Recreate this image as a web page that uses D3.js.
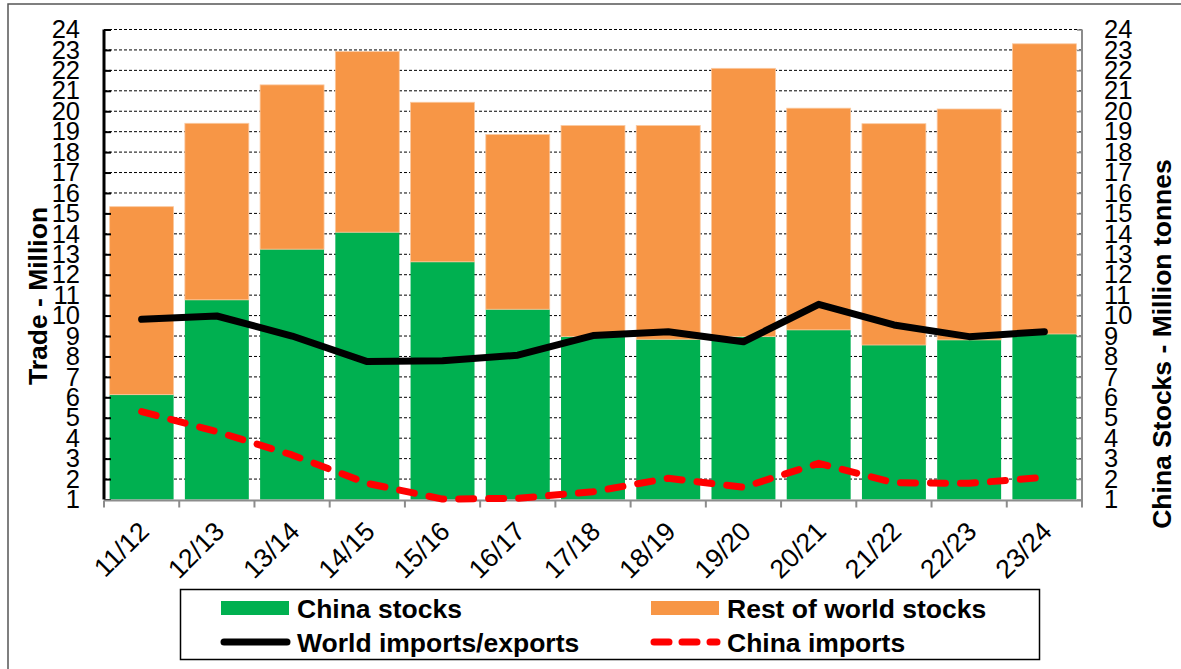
<!DOCTYPE html>
<html>
<head>
<meta charset="utf-8">
<script src="https://cdn.jsdelivr.net/npm/d3@7"></script>
<style>
  html, body { margin: 0; padding: 0; background: #fff; }
  svg { display: block; font-family: "Liberation Sans", Arial, sans-serif; }
</style>
</head>
<body>
<svg id="chart" width="1181" height="669"></svg>
<script>
// ---- data ----
const categories = ["11/12","12/13","13/14","14/15","15/16","16/17","17/18","18/19","19/20","20/21","21/22","22/23","23/24"];
const chinaStocks = [6.13, 10.77, 13.25, 14.08, 12.63, 10.31, 8.97, 8.84, 8.97, 9.30, 8.56, 8.81, 9.10];
const restOfWorldStocks = [9.20, 8.64, 8.04, 8.84, 7.81, 8.55, 10.33, 10.46, 13.13, 10.85, 10.83, 11.30, 14.20];
const worldTrade = [9.82, 9.98, 9.00, 7.75, 7.79, 8.06, 9.02, 9.21, 8.72, 10.55, 9.54, 8.97, 9.21];
const chinaImports = [5.30, 4.32, 3.18, 1.79, 1.02, 1.06, 1.38, 2.04, 1.60, 2.77, 1.82, 1.79, 2.09];
const yTicks = d3.range(1, 25);
const legendItems = ["China stocks", "Rest of world stocks", "World imports/exports", "China imports"];

// ---- layout ----
const svg = d3.select("#chart");
const L = 104, R = 1082, T = 29.5, B = 499.5;
const GREEN = "#00B050", ORANGE = "#F79646", RED = "#FF0000";

const x = d3.scaleBand().domain(categories).range([L, R]).paddingInner(0.15).paddingOuter(0.075);
const y = d3.scaleLinear().domain([1, 24]).range([B, T]);

// outer frame
svg.append("rect").attr("x", 8).attr("y", 4).attr("width", 1300).attr("height", 800)
  .attr("fill", "none").attr("stroke", "#555").attr("stroke-width", 1.5);

// gridlines
svg.append("g").selectAll("line").data(yTicks.filter(d => d > 1)).join("line")
  .attr("x1", L).attr("x2", R)
  .attr("y1", d => y(d)).attr("y2", d => y(d))
  .attr("stroke", "#000").attr("stroke-width", 1).attr("stroke-dasharray", "3,2");

// bars
const rows = categories.map((c, i) => ({ c, china: chinaStocks[i], rest: restOfWorldStocks[i] }));
const barG = svg.append("g");
barG.selectAll("rect.china").data(rows).join("rect").attr("class", "china")
  .attr("x", d => x(d.c)).attr("width", x.bandwidth())
  .attr("y", d => y(d.china)).attr("height", d => y(1) - y(d.china))
  .attr("fill", GREEN);
barG.selectAll("rect.rest").data(rows).join("rect").attr("class", "rest")
  .attr("x", d => x(d.c)).attr("width", x.bandwidth())
  .attr("y", d => y(d.china + d.rest)).attr("height", d => y(d.china) - y(d.china + d.rest))
  .attr("fill", ORANGE).attr("stroke", "#fbc9a0").attr("stroke-width", 0.8);

// left axis
const leftAxis = d3.axisLeft(y).tickValues(yTicks).tickSize(-7).tickPadding(-4).tickFormat(d3.format("d"));
const gl = svg.append("g").attr("transform", `translate(${L},0)`).call(leftAxis);
gl.select(".domain").attr("stroke", "#000").attr("stroke-width", 3).attr("d", `M0,${T}V${B}`);
gl.selectAll(".tick line").attr("stroke", "#000").attr("stroke-width", 2);
gl.selectAll(".tick text").attr("x", -24).attr("font-size", 25.5).attr("fill", "#000")
  .attr("font-family", "Liberation Sans, Arial, sans-serif");

// right axis
const rightAxis = d3.axisRight(y).tickValues(yTicks).tickSize(-5).tickFormat(d3.format("d"));
const gr = svg.append("g").attr("transform", `translate(${R},0)`).call(rightAxis);
gr.select(".domain").attr("stroke", "#8c8c8c").attr("stroke-width", 2).attr("d", `M0,${T}V${B + 1}`);
gr.selectAll(".tick line").attr("stroke", "#8c8c8c").attr("stroke-width", 1.5);
gr.selectAll(".tick text").attr("x", 22).attr("font-size", 25.5).attr("fill", "#000")
  .attr("font-family", "Liberation Sans, Arial, sans-serif");

// bottom axis
const step = x.step();
const bounds = d3.range(categories.length + 1).map(i => L + i * step);
const gb = svg.append("g");
gb.append("line").attr("x1", L).attr("x2", R + 1).attr("y1", B + 1).attr("y2", B + 1)
  .attr("stroke", "#8c8c8c").attr("stroke-width", 2);
gb.selectAll("line.tk").data(bounds).join("line").attr("class", "tk")
  .attr("x1", d => d).attr("x2", d => d).attr("y1", B + 1).attr("y2", B + 8)
  .attr("stroke", "#8c8c8c").attr("stroke-width", 2);
gb.selectAll("text").data(categories).join("text")
  .attr("transform", d => `translate(${x(d) + x.bandwidth() / 2 + 9},${533}) rotate(-45)`)
  .attr("text-anchor", "end").attr("font-size", 26.5).attr("fill", "#000")
  .text(d => d);

// lines
const lineGen = d3.line().x((d, i) => x(categories[i]) + x.bandwidth() / 2).y(d => y(d));
svg.append("path").datum(worldTrade).attr("d", lineGen)
  .attr("fill", "none").attr("stroke", "#000").attr("stroke-width", 7)
  .attr("stroke-linecap", "round").attr("stroke-linejoin", "round");
svg.append("path").datum(chinaImports).attr("d", lineGen)
  .attr("fill", "none").attr("stroke", RED).attr("stroke-width", 7)
  .attr("stroke-dasharray", "15,15")
  .attr("stroke-linecap", "round").attr("stroke-linejoin", "round");

// axis titles
svg.append("text").attr("transform", "translate(47,296) rotate(-90)")
  .attr("text-anchor", "middle").attr("font-size", 26.5).attr("font-weight", "bold")
  .text("Trade - Million");
svg.append("text").attr("transform", "translate(1171,344) rotate(-90)")
  .attr("text-anchor", "middle").attr("font-size", 26.5).attr("font-weight", "bold")
  .text("China Stocks - Million tonnes");

// legend
const lg = svg.append("g");
lg.append("rect").attr("x", 180.5).attr("y", 589.5).attr("width", 859).attr("height", 70)
  .attr("fill", "#fff").attr("stroke", "#000").attr("stroke-width", 1.5);
const cols = [221, 651];
const rowY = [608, 642];
// swatches
lg.append("rect").attr("x", cols[0]).attr("y", rowY[0] - 7).attr("width", 68).attr("height", 14).attr("fill", GREEN);
lg.append("rect").attr("x", cols[1]).attr("y", rowY[0] - 7).attr("width", 68).attr("height", 14).attr("fill", ORANGE);
lg.append("line").attr("x1", cols[0] + 3).attr("x2", cols[0] + 66).attr("y1", rowY[1]).attr("y2", rowY[1])
  .attr("stroke", "#000").attr("stroke-width", 7).attr("stroke-linecap", "round");
lg.append("line").attr("x1", cols[1] + 3).attr("x2", cols[1] + 66).attr("y1", rowY[1]).attr("y2", rowY[1])
  .attr("stroke", RED).attr("stroke-width", 7).attr("stroke-linecap", "round").attr("stroke-dasharray", "15,13");
const legPos = [[cols[0], rowY[0]], [cols[1], rowY[0]], [cols[0], rowY[1]], [cols[1], rowY[1]]];
lg.selectAll("text").data(legendItems).join("text")
  .attr("x", (d, i) => legPos[i][0] + 76).attr("y", (d, i) => legPos[i][1])
  .attr("dy", "0.36em").attr("font-size", 26.5).attr("font-weight", "bold")
  .text(d => d);
</script>
</body>
</html>
